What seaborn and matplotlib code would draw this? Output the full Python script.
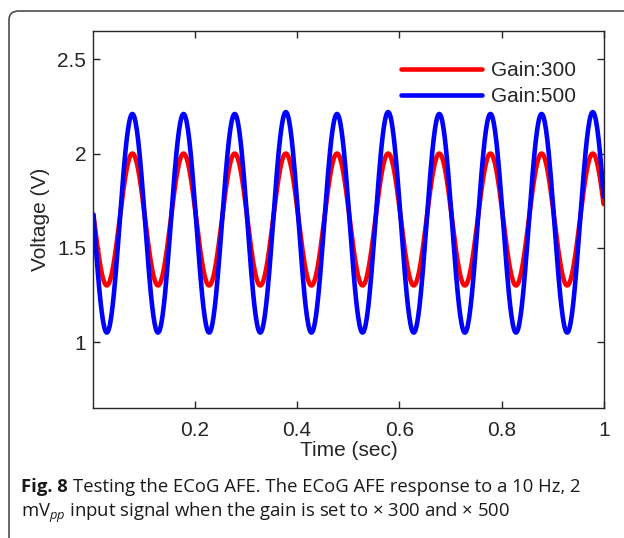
import numpy as np
import pandas as pd
import matplotlib
matplotlib.use("Agg")
import matplotlib.pyplot as plt
from matplotlib.patches import FancyBboxPatch
import seaborn as sns

# Times (s) of successive troughs and crests of the 10 Hz response
extrema_t = [0.028, 0.078, 0.128, 0.178, 0.228, 0.278, 0.328, 0.378, 0.428, 0.478,
             0.528, 0.578, 0.628, 0.678, 0.728, 0.778, 0.828, 0.878, 0.928, 0.978]
# Output voltage at those troughs / crests (V)
gain300_extrema = [1.30, 2.00, 1.30, 2.00, 1.30, 2.00, 1.30, 2.00, 1.30, 2.00,
                   1.30, 2.00, 1.30, 2.00, 1.30, 2.00, 1.30, 2.00, 1.30, 2.00]
gain500_extrema = [1.05, 2.21, 1.05, 2.21, 1.05, 2.21, 1.05, 2.22, 1.05, 2.21,
                   1.05, 2.22, 1.05, 2.21, 1.05, 2.21, 1.05, 2.21, 1.05, 2.22]
series_labels = ["Gain:300", "Gain:500"]
series_colors = ["#ff0000", "#0000ff"]
t_start, t_end = 0.001, 1.0
x_ticks = [0.2, 0.4, 0.6, 0.8, 1.0]
x_ticklabels = ["0.2", "0.4", "0.6", "0.8", "1"]
y_ticks = [1.0, 1.5, 2.0, 2.5]
y_ticklabels = ["1", "1.5", "2", "2.5"]


def trace(times, values, t0, t1, n=40):
    """Join successive extrema with half-cosine arcs (sinusoidal response)."""
    times = list(times)
    values = list(values)
    half = times[1] - times[0]
    # extend by one extremum at each side so the trace reaches the axis limits
    times = [times[0] - half] + times + [times[-1] + half]
    values = [values[1]] + values + [values[-2]]
    ts, vs = [], []
    for a in range(len(times) - 1):
        ta, tb = times[a], times[a + 1]
        va, vb = values[a], values[a + 1]
        s = np.linspace(0, 1, n, endpoint=False)
        tt = ta + s * (tb - ta)
        vv = vb + (va - vb) * (1 + np.cos(np.pi * s)) / 2
        ts.append(tt)
        vs.append(vv)
    ts = np.concatenate(ts)
    vs = np.concatenate(vs)
    keep = (ts >= t0) & (ts <= t1)
    return ts[keep], vs[keep]


frames = []
for lab, ext in zip(series_labels, [gain300_extrema, gain500_extrema]):
    tt, vv = trace(extrema_t, ext, t_start, t_end)
    frames.append(pd.DataFrame({"Time (sec)": tt, "Voltage (V)": vv, "Gain": lab}))
df = pd.concat(frames, ignore_index=True)

sns.set_theme(style="white")
plt.rcParams["font.family"] = ["Liberation Sans", "DejaVu Sans"]
plt.rcParams["mathtext.fontset"] = "custom"
plt.rcParams["mathtext.rm"] = "Open Sans"
plt.rcParams["mathtext.it"] = "Open Sans:italic"

fig = plt.figure(figsize=(6.24, 5.38), dpi=100)
ax = fig.add_axes([93 / 624, 1 - 408 / 538, (604 - 93) / 624, (408 - 31) / 538])

sns.lineplot(data=df, x="Time (sec)", y="Voltage (V)", hue="Gain",
             palette=dict(zip(series_labels, series_colors)),
             estimator=None, sort=False, linewidth=3.3, ax=ax)

ax.set_xlim(t_start, t_end)
ax.set_ylim(0.65, 2.65)
ax.set_xticks(x_ticks)
ax.set_xticklabels(x_ticklabels)
ax.set_yticks(y_ticks)
ax.set_yticklabels(y_ticklabels)
ax.tick_params(direction="in", length=5, width=1, colors="#262626",
               labelsize=15, top=True, right=True, bottom=True, left=True)
ax.tick_params(axis="x", pad=9)
ax.tick_params(axis="y", pad=5)
for sp in ax.spines.values():
    sp.set_color("#262626")
    sp.set_linewidth(1.0)
ax.set_xlabel("Time (sec)", fontsize=15, color="#262626", labelpad=1)
ax.set_ylabel("Voltage (V)", fontsize=15, color="#262626", labelpad=5)

leg = ax.legend(loc="upper right", bbox_to_anchor=(0.97, 0.953), frameon=False,
                fontsize=15, handlelength=3.9, handletextpad=0.45,
                labelspacing=0.33, borderaxespad=0.2)
for h in leg.get_lines():
    h.set_linewidth(3.3)

# Rounded frame around the figure panel
frame = FancyBboxPatch((9 / 624, -0.2), 1.2, 1 - 11 / 538 + 0.2,
                       boxstyle="round,pad=0,rounding_size=0.016",
                       transform=fig.transFigure, fill=False,
                       edgecolor="#4d4d4d", linewidth=1.2, clip_on=False)
fig.patches.append(frame)

# Caption
cap_kw = dict(fontsize=13.3, color="#1a1a1a", family="Open Sans", va="center")
t_bold = fig.text(21 / 624, 1 - 487 / 538, "Fig. 8", fontweight="bold", **cap_kw)
fig.canvas.draw()
bb = t_bold.get_window_extent()
x_next = (bb.x1 + 5) / fig.bbox.width
fig.text(x_next, 1 - 487 / 538,
         "Testing the ECoG AFE. The ECoG AFE response to a 10 Hz, 2", **cap_kw)
fig.text(21 / 624, 1 - 513 / 538,
         "mV$_{\\mathit{pp}}$ input signal when the gain is set to \u00d7 300 and \u00d7 500",
         **cap_kw)

fig.savefig("out.png", dpi=100)
